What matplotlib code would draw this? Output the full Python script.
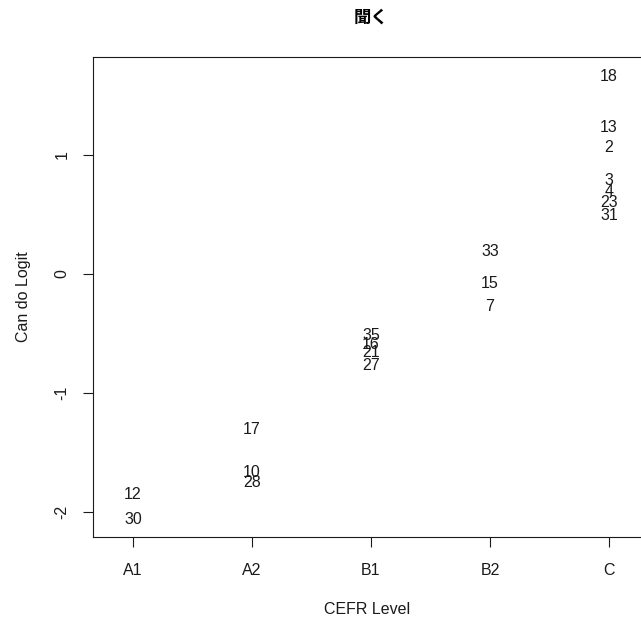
import matplotlib
matplotlib.use("Agg")
import matplotlib.pyplot as plt

plt.rcParams['font.family'] = ['Liberation Sans', 'Noto Sans CJK JP', 'DejaVu Sans']

# CEFR levels and the Can-do item numbers with their logit values
levels = ["A1", "A2", "B1", "B2", "C"]
item_level = ["A1", "A1",
              "A2", "A2", "A2",
              "B1", "B1", "B1", "B1",
              "B2", "B2", "B2",
              "C", "C", "C", "C", "C", "C", "C"]
item_id = ["12", "30",
           "17", "10", "28",
           "35", "16", "21", "27",
           "33", "15", "7",
           "18", "13", "2", "3", "4", "23", "31"]
item_logit = [-1.857, -2.067,
              -1.303, -1.672, -1.748,
              -0.513, -0.59, -0.66, -0.77,
              0.193, -0.076, -0.277,
              1.664, 1.235, 1.067, 0.79, 0.69, 0.60, 0.49]
y_ticks = [-2, -1, 0, 1]

W, H = 641, 623
fig = plt.figure(figsize=(W / 100, H / 100), dpi=100)
left, right, top, bottom = 93, 642, 57, 537
ax = fig.add_axes([left / W, (H - bottom) / H, (right - left) / W, (bottom - top) / H])

pos = {lv: i + 1 for i, lv in enumerate(levels)}
for lv, lab, val in zip(item_level, item_id, item_logit):
    ax.text(pos[lv], val, lab, ha="center", va="center", fontsize=11.5, color="#1a1a1a")

ax.set_xlim(0.664, 0.664 + (right - left) / 119)
ax.set_ylim(-2.210, 1.824)
ax.set_xticks(range(1, len(levels) + 1))
ax.set_xticklabels(levels)
ax.set_yticks(y_ticks)
ax.set_yticklabels([str(t) for t in y_ticks], rotation=90, va="center")
ax.tick_params(axis="x", length=7, width=0.8, labelsize=11.5, colors="#1a1a1a", pad=12)
ax.tick_params(axis="y", length=7, width=0.8, labelsize=11.5, colors="#1a1a1a", pad=10)
for s in ax.spines.values():
    s.set_linewidth(0.8)
    s.set_color("#1a1a1a")

ax.set_xlabel("CEFR Level", fontsize=11.5, labelpad=17, color="#1a1a1a")
ax.set_ylabel("Can do Logit", fontsize=11.5, labelpad=17, color="#1a1a1a")
fig.text(371 / W, 1 - 18 / H, "聞く", ha="center", va="center", fontsize=12.5,
         fontweight="bold", family=["Noto Sans CJK JP"])

fig.savefig("out.png", dpi=100)
